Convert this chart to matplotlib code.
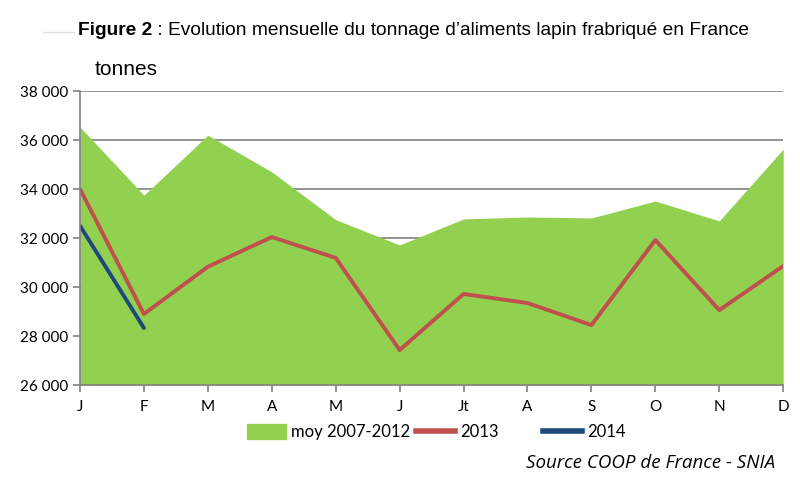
import numpy as np
import matplotlib.pyplot as plt
from matplotlib.patches import Patch
from matplotlib.lines import Line2D

mois = ['J', 'F', 'M', 'A', 'M', 'J', 'Jt', 'A', 'S', 'O', 'N', 'D']
moy = [36530, 33750, 36200, 34700, 32750, 31720, 32780, 32860, 32820, 33510, 32700, 35630]
t2013 = [34000, 28900, 30830, 32040, 31190, 27430, 29720, 29350, 28450, 31920, 29060, 30860]
t2014 = [32500, 28330]
yticks = [26000, 28000, 30000, 32000, 34000, 36000, 38000]
ylabels = ['26 000', '28 000', '30 000', '32 000', '34 000', '36 000', '38 000']
noms = ['moy 2007-2012', '2013', '2014']

vert = '#92D050'
rouge = '#C0504D'
bleu = '#1F497D'

fig = plt.figure(figsize=(8, 4.79), dpi=100)
ax = fig.add_axes([0.1, 0.196, 0.879, 0.614])
x = np.arange(len(mois))

ax.fill_between(x, 26000, moy, color=vert, lw=0, zorder=2)
ax.plot(x, t2013, color=rouge, lw=2.8, zorder=3, solid_capstyle='round')
ax.plot(x[:len(t2014)], t2014, color=bleu, lw=2.8, zorder=4, solid_capstyle='round')

ax.set_xlim(0, 11)
ax.set_ylim(26000, 38000)
ax.set_yticks(yticks)
ax.set_yticklabels(ylabels, fontsize=11, family='Lato')
ax.set_xticks(x)
ax.set_xticklabels(mois, fontsize=11, family='Lato')
ax.yaxis.grid(True, color='#808080', lw=1.2, zorder=1)
ax.set_axisbelow(True)
for s in ['top', 'right']:
    ax.spines[s].set_visible(False)
for s in ['left', 'bottom']:
    ax.spines[s].set_color('#808080')
    ax.spines[s].set_linewidth(1.2)
    ax.spines[s].set_zorder(5)
ax.tick_params(colors='#808080', labelcolor='black', length=5, width=1.2, direction='out')
ax.tick_params(axis='x', pad=6)

# titre : partie en gras puis suite
t1 = fig.text(0.0975, 0.937, 'Figure 2', fontsize=13.8, fontweight='bold',
              family='Liberation Sans', va='center')
fig.canvas.draw()
bb = t1.get_window_extent().transformed(fig.transFigure.inverted())
fig.text(bb.x1, 0.937, ' : Evolution mensuelle du tonnage d\u2019aliments lapin frabriqué en France',
         fontsize=13.8, family='Liberation Sans', va='center')
fig.add_artist(Line2D([0.054, 0.092], [0.933, 0.933], color='#e0e0e0', lw=1))
fig.text(0.118, 0.855, 'tonnes', fontsize=15, family='Liberation Sans', va='center')

handles = [Patch(color=vert), Line2D([], [], color=rouge, lw=4), Line2D([], [], color=bleu, lw=4)]
xpos = [0.309, 0.52, 0.679]
for h, n, xp in zip(handles, noms, xpos):
    fig.legend([h], [n], loc='center left', bbox_to_anchor=(xp, 0.098), frameon=False,
               prop={'family': 'Lato', 'size': 12}, handlelength=2.35, handletextpad=0.3,
               handleheight=1.0, borderpad=0, borderaxespad=0)

fig.text(0.969, 0.033, 'Source COOP de France - SNIA', fontsize=13.5, style='italic',
         family='Open Sans', ha='right', va='center')

fig.savefig('out.png', dpi=100)
